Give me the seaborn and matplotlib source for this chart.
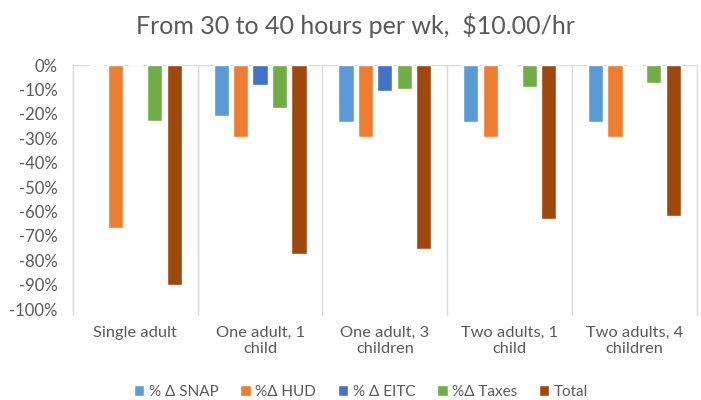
import matplotlib
matplotlib.use("Agg")
import matplotlib.pyplot as plt
import seaborn as sns
import pandas as pd
from matplotlib.ticker import FuncFormatter

sns.set_theme(style="white")
plt.rcParams['font.family'] = ['Lato', 'DejaVu Sans']

households = ["Single adult", "One adult, 1\nchild", "One adult, 3\nchildren",
              "Two adults, 1\nchild", "Two adults, 4\nchildren"]
series = ["% \u0394 SNAP", "%\u0394 HUD", "% \u0394 EITC", "%\u0394 Taxes", "Total"]

snap = [0.0, -0.21, -0.235, -0.235, -0.235]
hud = [-0.67, -0.295, -0.295, -0.295, -0.295]
eitc = [0.0, -0.08, -0.105, 0.0, 0.0]
taxes = [-0.23, -0.175, -0.10, -0.09, -0.075]
total = [-0.90, -0.775, -0.755, -0.63, -0.62]

colors = ["#5B9BD5", "#ED7D31", "#4472C4", "#70AD47", "#9E480E"]

values = [snap, hud, eitc, taxes, total]
df = pd.DataFrame({
    "household": [h for _ in series for h in households],
    "series": [s for s in series for _ in households],
    "change": [v for vals in values for v in vals],
})

fig = plt.figure(figsize=(7.01, 4.00), dpi=100)
ax = fig.add_axes([0.104, 0.2275, 0.89, 0.61])

sns.barplot(data=df, x="household", y="change", hue="series", order=households,
            hue_order=series, palette=colors, width=0.78, gap=0.22,
            saturation=1, ax=ax, legend=True)

ax.set_xlim(-0.5, len(households) - 0.5)
ax.set_ylim(-1.0, 0.0)
ax.set_yticks([-i / 10 for i in range(11)])
ax.yaxis.set_major_formatter(FuncFormatter(lambda v, _: f"{v * 100:.0f}%"))

grid_color = "#D9D9D9"
for s in ax.spines.values():
    s.set_visible(False)
for i in range(len(households) + 1):
    ax.plot([i - 0.5, i - 0.5], [0, -1.025], color=grid_color, lw=1.0,
            clip_on=False, zorder=0)
ax.axhline(0, color=grid_color, lw=1.0, zorder=0)

text_color = "#595959"
ax.tick_params(axis="y", length=0, pad=11, labelsize=12, labelcolor=text_color)
ax.tick_params(axis="x", length=0, pad=12, labelsize=11.8, labelcolor=text_color)
ax.set_xlabel("")
ax.set_ylabel("")

fig.suptitle("From 30 to 40 hours per wk,  $10.00/hr", x=0.507, y=0.968,
             fontsize=18, color=text_color)

handles, labels = ax.get_legend_handles_labels()
ax.legend_.remove()
fig.legend(handles, labels, loc="center", bbox_to_anchor=(0.515, 0.02),
           ncol=5, frameon=False, fontsize=11, labelcolor=text_color,
           handlelength=0.7, handleheight=0.7, handletextpad=0.3,
           columnspacing=1.4)

fig.savefig("out.png", dpi=100)
